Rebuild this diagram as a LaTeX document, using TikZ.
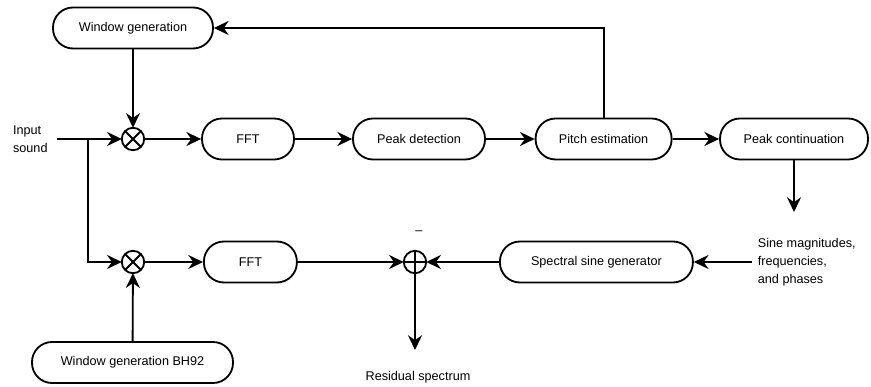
\documentclass[tikz,border=0pt]{standalone}
\usepackage{fontspec}
\setmainfont{Liberation Sans}
\usetikzlibrary{positioning,arrows.meta,calc}
\tikzset{block/.style={rectangle, draw=black, line width=1.3pt,
    rounded corners=0.5cm, minimum height=1.025cm, text centered,
    font=\fontsize{9}{12.8}\selectfont},
  mixer/.style={circle, draw=black, line width=1.3pt, minimum size=0.56cm,
    inner sep=0pt, outer sep=0pt,
    append after command={(\tikzlastnode.north west) edge[line] (\tikzlastnode.south east)
      (\tikzlastnode.north east) edge[line] (\tikzlastnode.south west)}},
  adder/.style={circle, draw=black, line width=1.3pt, minimum size=0.56cm,
    inner sep=0pt, outer sep=0pt,
    append after command={(\tikzlastnode.north) edge[line] (\tikzlastnode.south)
      (\tikzlastnode.west) edge[line] (\tikzlastnode.east)}},
  txt/.style={font=\fontsize{9}{12.8}\selectfont, align=left, inner sep=0pt},
  myarrow/.style={-{Stealth[length=10.5pt, width=10pt, inset=3.5pt]}, line width=1.3pt},
  line/.style={-, line width=1.3pt}
}
\begin{document}
\begin{tikzpicture}
\useasboundingbox (0,0) rectangle (21.775,9.675);

   %Window generation node
   \node (wingen) [block, minimum width=4cm] at (3.325,8.975) {Window generation};
   %Input sound
   \node (input) [txt, anchor=west] at (0.32,6.2) {Input\\sound};
   \coordinate (in) at (1.43,6.2);
   \coordinate (split) at (2.21,6.2);
   %Upper chain
   \node (mult1) [mixer] at (3.325,6.2) {};
   \node (fft1) [block, minimum width=2.3cm] at (6.2,6.2) {FFT};
   \node (peakdet) [block, minimum width=3.3cm] at (10.475,6.2) {Peak detection};
   \node (pitch) [block, minimum width=3.4cm] at (15.09,6.2) {Pitch estimation};
   \node (peakcont) [block, minimum width=3.7cm] at (19.85,6.2) {Peak continuation};
   \coordinate (sinetop) at (19.85,4.375);
   %Sine parameters
   \node (sines) [txt, anchor=west] at (18.94,3.125) {Sine magnitudes,\\frequencies,\\and phases};
   \coordinate (sineleft) at (18.8,3.125);
   %Lower chain
   \node (mult2) [mixer] at (3.325,3.125) {};
   \node (fft2) [block, minimum width=2.325cm] at (6.26,3.125) {FFT};
   \node (adder) [adder] at (10.375,3.125) {};
   \node (minus) [txt] at (10.475,3.857) {--};
   \node (sinegen) [block, minimum width=4.825cm] at (14.91,3.125) {Spectral sine generator};
   %Window generation BH92 node
   \node (bh92) [block, minimum width=5.025cm] at (3.3125,0.6125) {Window generation BH92};
   %Residual
   \node (resid) [txt] at (10.45,0.25) {Residual spectrum};
   \coordinate (residtop) at (10.375,0.925);

\draw [line] (in) -- (split);
\draw [myarrow] (split) -- (mult1);
\draw [myarrow] (split) |- (mult2);
\draw [myarrow] (wingen) -- (mult1);
\draw [myarrow] (mult1) -- (fft1);
\draw [myarrow] (fft1) -- (peakdet);
\draw [myarrow] (peakdet) -- (pitch);
\draw [myarrow] (pitch) -- (peakcont);
\draw [myarrow] (pitch.north) |- (wingen.east);
\draw [myarrow] (peakcont) -- (sinetop);
\draw [myarrow] (sineleft) -- (sinegen);
\draw [myarrow] (sinegen) -- (adder);
\draw [myarrow] (fft2) -- (adder);
\draw [myarrow] (mult2) -- (fft2);
\draw [myarrow] (bh92) -- (mult2);
\draw [myarrow] (adder) -- (residtop);

\end{tikzpicture}
\end{document}
